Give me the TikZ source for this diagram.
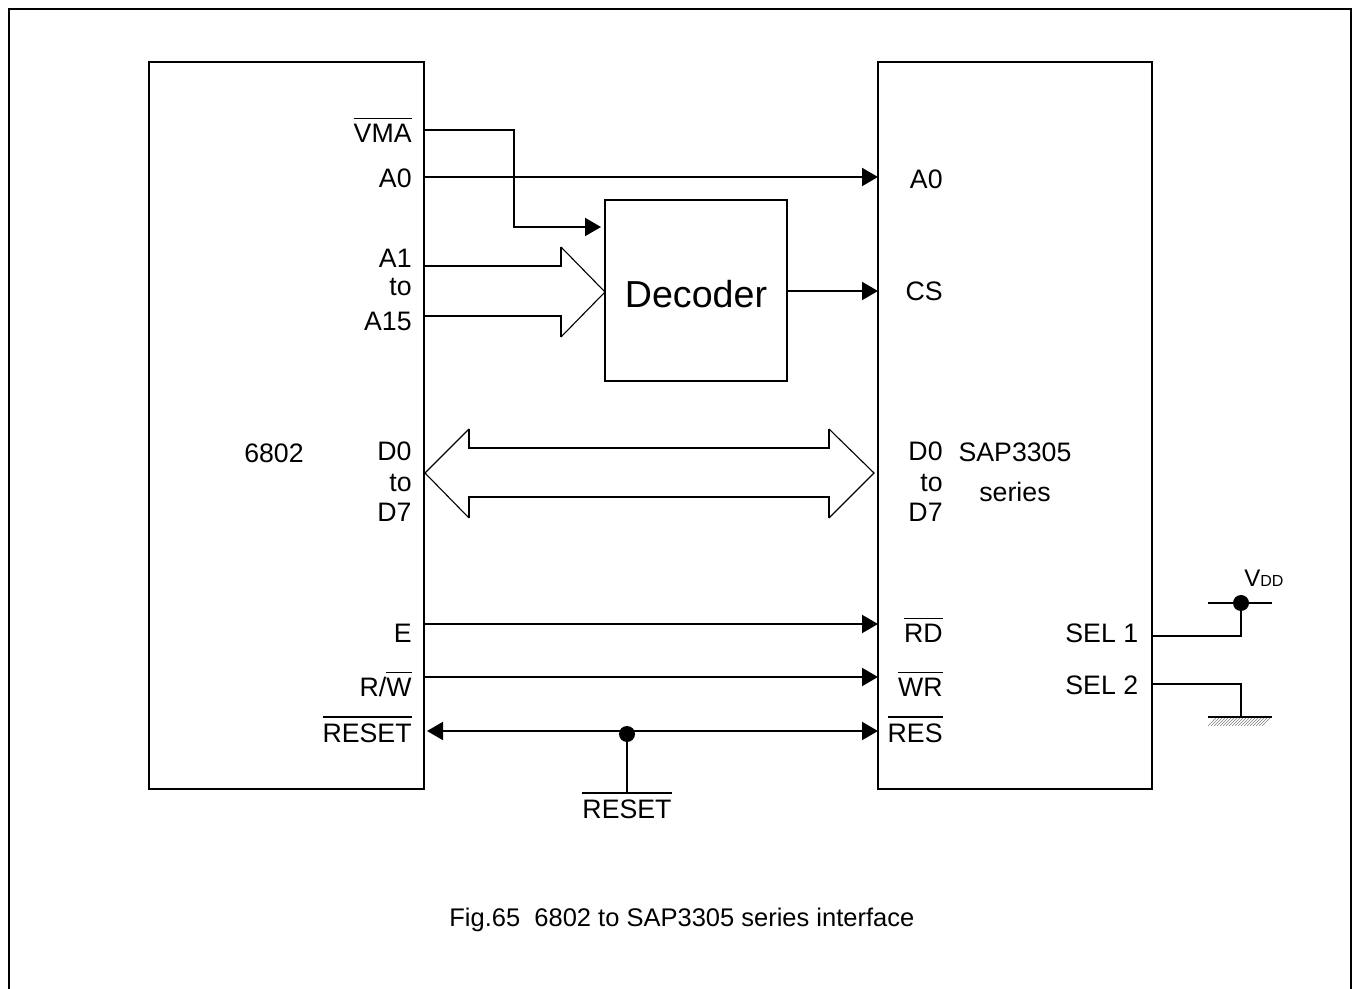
\documentclass[tikz,border=0pt]{standalone}
\usepackage{fontspec}
\setmainfont{Liberation Sans}
\usepackage{tikz}
\usetikzlibrary{arrows.meta, positioning}
\newcommand{\barred}[1]{\setbox0=\hbox{#1}\rlap{\rule[\dimexpr\ht0+2.6pt]{\wd0}{0.85pt}}\box0}
\tikzset{
  chip/.style={rectangle, draw=black, line width=1pt, inner sep=0pt, outer sep=0pt},
  pinl/.style={anchor=base east, inner sep=0pt, font=\fontsize{13.35}{16}\selectfont},
  txt/.style={anchor=base, inner sep=0pt, font=\fontsize{13.35}{16}\selectfont},
  sig/.style={line width=1pt},
  arrow/.style={line width=1pt, -{Triangle[length=8pt, width=9pt]}},
  busline/.style={line width=1pt},
  bushead/.style={line width=0.55pt, miter limit=20},
  dot/.style={circle, fill=black, minimum size=8pt, inner sep=0pt, outer sep=0pt}
}

\begin{document}
\begin{tikzpicture}[x=0.5pt, y=-0.5pt]
    \useasboundingbox (0,0) rectangle (1356,989);
    % Frame, open at the bottom
    \coordinate (frameA) at (9,989);
    \coordinate (frameB) at (9,9);
    \coordinate (frameC) at (1351,9);
    \coordinate (frameD) at (1351,989);
    \draw[sig] (frameA) -- (frameB) -- (frameC) -- (frameD);

    % Nodes
    \node[chip, minimum width=137.5pt, minimum height=363.5pt] (mpu) at (286.5,425.5) {};
    \node[chip, minimum width=137pt, minimum height=363.5pt] (sap) at (1015,425.5) {};
    \node[chip, minimum width=91pt, minimum height=90.5pt] (decoder) at (696,290.5) {};
    \node[txt, font=\fontsize{18.8}{22}\selectfont] (declabel) at (696,308) {Decoder};
    \node[txt] (mpuname) at (274,463) {6802};
    \node[txt] (sapname) at (1015,462) {SAP3305};
    \node[txt] (sapseries) at (1015,502) {series};

    % Pin labels of the 6802
    \node[pinl] (lvma) at (412,143) {\barred{VMA}};
    \node[pinl] (la0) at (412,188) {A0};
    \node[pinl] (la1) at (412,268) {A1};
    \node[pinl] (lato) at (412,296) {to};
    \node[pinl] (la15) at (412,331) {A15};
    \node[pinl] (ld0) at (412,461) {D0};
    \node[pinl] (ldto) at (412,492) {to};
    \node[pinl] (ld7) at (412,522) {D7};
    \node[pinl] (le) at (412,643) {E};
    \node[pinl] (lrw) at (412,697) {R/\barred{W}};
    \node[pinl] (lrst) at (412,742) {\barred{RESET}};

    % Pin labels of the SAP3305
    \node[pinl] (sa0) at (943,189) {A0};
    \node[pinl] (scs) at (943,301) {CS};
    \node[pinl] (sd0) at (943,461) {D0};
    \node[pinl] (sdto) at (943,492) {to};
    \node[pinl] (sd7) at (943,522) {D7};
    \node[pinl] (srd) at (943,643) {\barred{RD}};
    \node[pinl] (swr) at (943,697) {\barred{WR}};
    \node[pinl] (sres) at (943,742) {\barred{RES}};
    \node[txt, anchor=base west] (ssel1) at (1065,643) {SEL 1};
    \node[txt, anchor=base west] (ssel2) at (1065,695) {SEL 2};

    % Supply and ground
    \node[dot] (vdddot) at (1241,603) {};
    \coordinate (vddl) at (1208,603);
    \coordinate (vddr) at (1272,603);
    \coordinate (gndl) at (1208,717);
    \coordinate (gndr) at (1272,717);
    \coordinate (gndm) at (1241,717);
    \node[txt, anchor=base west, font=\fontsize{12}{14}\selectfont] (vdd) at (1244,587) {V\fontsize{8}{10}\selectfont DD};
    \foreach \x in {1208,1211,...,1262}
        \draw[gray, line width=0.3pt] (\x,726) -- ++(9,-9);

    % Reset input
    \node[dot] (rstdot) at (627,734) {};
    \node[txt] (rstpin) at (627,818) {\barred{RESET}};

    % Caption
    \node[txt, anchor=base west, font=\fontsize{12.75}{15}\selectfont] (caption) at (449,926) {Fig.65\ \ 6802 to SAP3305 series interface};

    % Arrows
    \draw[arrow] (mpu.east |- 0,177) -- (sap.west |- 0,177);
    \draw[arrow, shorten >=2pt] (mpu.east |- 0,130) -| (514,227) -- (decoder.west |- 0,227);
    \draw[arrow] (decoder.east |- 0,291) -- (sap.west |- 0,291);
    \draw[arrow] (mpu.east |- 0,624) -- (sap.west |- 0,624);
    \draw[arrow] (mpu.east |- 0,677) -- (sap.west |- 0,677);
    \draw[line width=1pt, {Triangle[length=8pt, width=9pt]}-{Triangle[length=8pt, width=9pt]}, shorten <=1.5pt] (mpu.east |- 0,731) -- (sap.west |- 0,731);
    \draw[sig] (rstdot) -- (rstpin.north);
    \draw[sig] (sap.east |- 0,636) -| (vdddot);
    \draw[sig] (sap.east |- 0,684) -| (gndm);
    \draw[sig] (vddl) -- (vddr);
    \draw[sig] (gndl) -- (gndr);

    % Bus arrows
    \draw[busline] (mpu.east |- 0,266) -- (561,266) -- (561,247);
    \draw[busline] (mpu.east |- 0,316) -- (561,316) -- (561,337);
    \draw[bushead] (561,247) -- (decoder.west |- 0,292) -- (561,337);
    \draw[busline] (469,429) -- (469,448) -- (829,448) -- (829,429);
    \draw[busline] (469,518) -- (469,497) -- (829,497) -- (829,518);
    \draw[bushead] (469,429) -- (425,473) -- (469,518);
    \draw[bushead] (829,429) -- (874,473) -- (829,518);
\end{tikzpicture}
\end{document}
